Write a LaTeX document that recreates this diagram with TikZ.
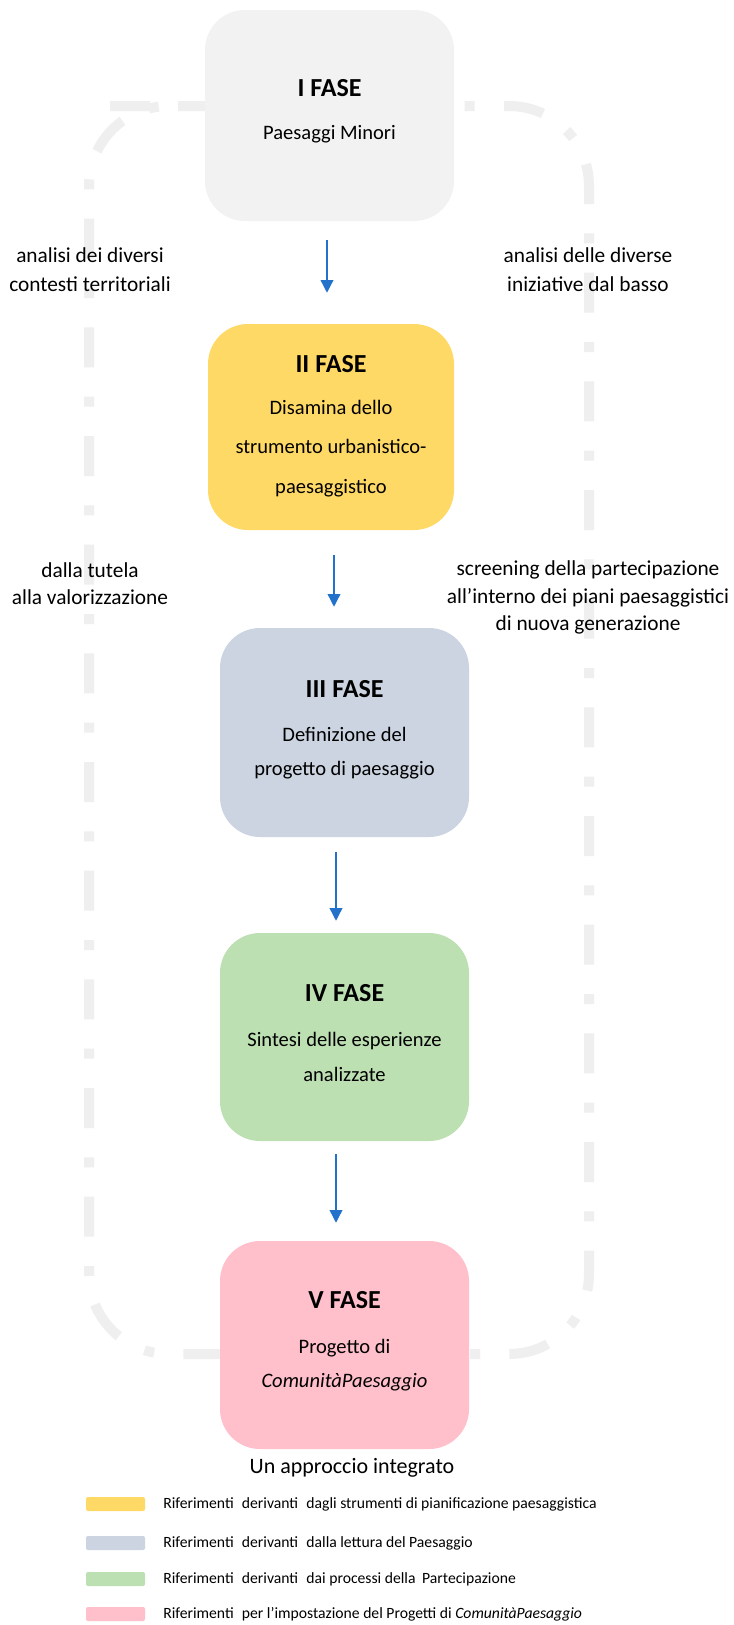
\documentclass[tikz,border=0pt]{standalone}
\usepackage{fontspec}
\setmainfont{Carlito}
\usetikzlibrary{arrows.meta,calc}

\definecolor{phaseI}{HTML}{F2F2F2}
\definecolor{phaseII}{HTML}{FFD966}
\definecolor{phaseIII}{HTML}{CBD4E0}
\definecolor{phaseIV}{HTML}{BDE0B3}
\definecolor{phaseV}{HTML}{FFBFCB}
\definecolor{flow}{HTML}{2272CC}
\definecolor{ring}{HTML}{EFEFEF}

\begin{document}
\begin{tikzpicture}[x=0.75pt,y=-0.75pt,
  phasebox/.style={rounded corners=30pt, inner sep=0pt, minimum width=186.75pt},
  phasetitle/.style={font=\fontsize{19.5}{23}\selectfont\bfseries, inner sep=0pt},
  phasebody/.style={font=\fontsize{15.4}{#1}\selectfont, align=center, inner sep=0pt},
  sidenote/.style={font=\fontsize{16}{#1}\selectfont, align=center, inner sep=0pt},
  flowarrow/.style={draw=flow, line width=1pt, -{Triangle[width=9.5pt,length=9.5pt]}},
  ringpath/.style={draw=ring, line width=7.5pt, dash pattern=on 30pt off 22pt on 7.5pt off 22pt},
  swatch/.style={rounded corners=1.5pt, minimum width=44.25pt, minimum height=10.5pt, inner sep=0pt},
  legendtext/.style={font=\fontsize{11.75}{14}\selectfont, anchor=west, inner sep=0pt}]

\useasboundingbox (0,0) rectangle (734,1625);
\fill[white] (0,0) rectangle (734,1625);

% cyclic frame behind the phases
\draw[ringpath, rounded corners=60pt]
  (190,106) -- (89,106) -- (89,1354) -- (589,1354) -- (589,106) -- cycle;

% phase boxes
\node[phasebox, fill=phaseI,   minimum height=158.25pt] (I)   at (329.5,115.5) {};
\node[phasebox, fill=phaseII,  minimum width=184.5pt, minimum height=154.5pt] (II) at (331,427) {};
\node[phasebox, fill=phaseIII, minimum height=156.75pt] (III) at (344.5,732.5) {};
\node[phasebox, fill=phaseIV,  minimum height=156pt] (IV)  at (344.5,1037) {};
\node[phasebox, fill=phaseV,   minimum height=156pt] (V)   at (344.5,1345) {};

% box contents
\node[phasetitle] (tI)   at (329.5,88)  {I FASE};
\node[phasebody=18] (bI) at (329.5,134) {Paesaggi Minori};

\node[phasetitle] (tII)   at (331,364)   {II FASE};
\node[phasebody=29.6] (bII) at (331,448.5) {Disamina dello\\strumento urbanistico-\\paesaggistico};

\node[phasetitle] (tIII)   at (344.5,689)  {III FASE};
\node[phasebody=25.5] (bIII) at (344.5,753) {Definizione del\\progetto di paesaggio};

\node[phasetitle] (tIV)   at (344.5,993)  {IV FASE};
\node[phasebody=26] (bIV) at (344.5,1057) {Sintesi delle esperienze\\analizzate};

\node[phasetitle] (tV)   at (344.5,1300)  {V FASE};
\node[phasebody=25] (bV) at (344.5,1365) {Progetto di\\\textit{ComunitàPaesaggio}};

% flow between phases
\draw[flowarrow] ($(I.south)+(-2.5,19)$)  -- ($(II.north)+(-4,-31)$);
\draw[flowarrow] ($(II.south)+(3,25)$)    -- ($(III.north)+(-10.5,-21)$);
\draw[flowarrow] ($(III.south)+(-8.5,15)$) -- ($(IV.north)+(-8.5,-12)$);
\draw[flowarrow] ($(IV.south)+(-8.5,13)$)  -- ($(V.north)+(-8.5,-18)$);

% side notes along the frame
\node[sidenote=21.75] (nl1) at (90,269.5)  {analisi dei diversi\\contesti territoriali};
\node[sidenote=21.75] (nr1) at (588,269.5) {analisi delle diverse\\iniziative dal basso};
\node[sidenote=20.25] (nl2) at (90,583.5)  {dalla tutela\\alla valorizzazione};
\node[sidenote=20.6]  (nr2) at (588,597.5) {screening della partecipazione\\all’interno dei piani paesaggistici\\di nuova generazione};

% caption
\node[font=\fontsize{16.5}{20}\selectfont, inner sep=0pt] (cap) at (352,1468) {Un approccio integrato};

% legend
\node[swatch, fill=phaseII]  (s1) at (115.5,1504) {};
\node[swatch, fill=phaseIII] (s2) at (115.5,1543) {};
\node[swatch, fill=phaseIV]  (s3) at (115.5,1579) {};
\node[swatch, fill=phaseV]   (s4) at (115.5,1614) {};
\node[legendtext] (l1) at (163,1504) {Riferimenti\hspace{0.3em} derivanti\hspace{0.3em} dagli strumenti di pianificazione paesaggistica};
\node[legendtext] (l2) at (163,1543) {Riferimenti\hspace{0.3em} derivanti\hspace{0.3em} dalla lettura del Paesaggio};
\node[legendtext] (l3) at (163,1579) {Riferimenti\hspace{0.3em} derivanti\hspace{0.3em} dai processi della\hspace{0.2em} Partecipazione};
\node[legendtext] (l4) at (163,1614) {Riferimenti\hspace{0.3em} per l’impostazione del Progetti di \textit{ComunitàPaesaggio}};
\end{tikzpicture}
\end{document}
